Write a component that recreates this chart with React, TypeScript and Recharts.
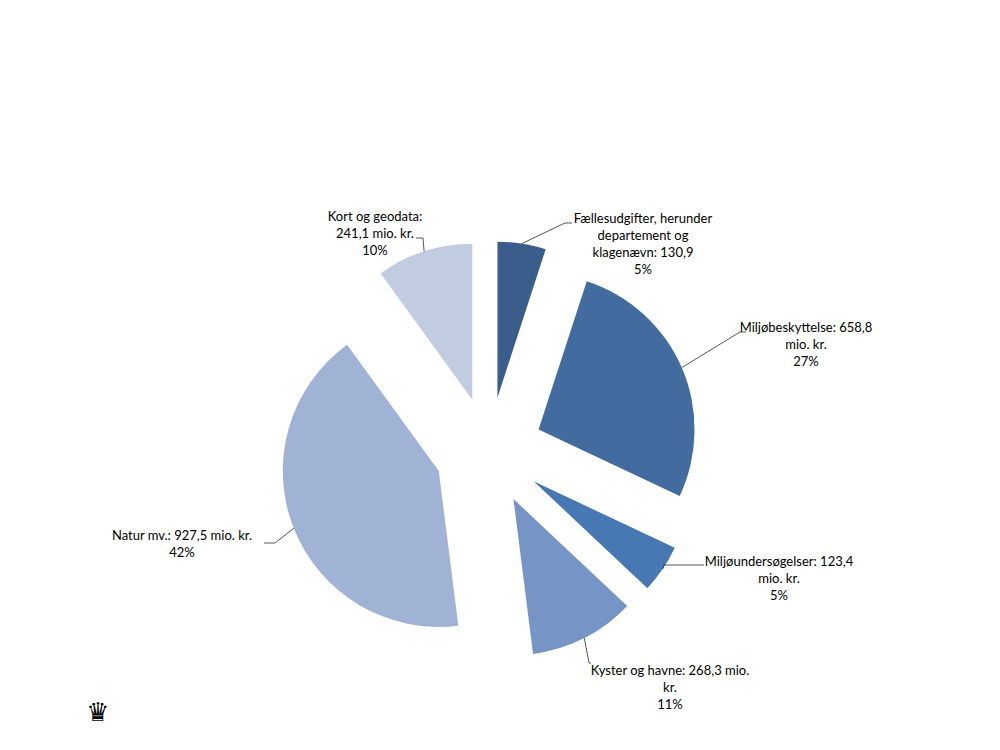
import { PieChart, Pie, Sector } from "recharts";

const CATEGORIES = [
  "Fællesudgifter, herunder departement og klagenævn",
  "Miljøbeskyttelse",
  "Miljøundersøgelser",
  "Kyster og havne",
  "Natur mv.",
  "Kort og geodata",
];
const AMOUNTS = [130.9, 658.8, 123.4, 268.3, 927.5, 241.1];
const SHARES = [5, 27, 5, 11, 42, 10];
const WITH_UNIT = [false, true, true, true, true, true];

const COLORS = ["#3a5d8b", "#426ca0", "#4878b4", "#7694c5", "#a1b3d4", "#c1cce1"];

const data = CATEGORIES.map((name, i) => ({ name, amount: AMOUNTS[i], share: SHARES[i] }));

const RADIAN = Math.PI / 180;
const EXPLODE = 54;
const LINE_H = 17;

// label placement relative to the pie centre (text centre of first line, leader elbow and end)
const LABEL_LAYOUT = [
  { wrap: 24, tx: 154, ty: -233, elbow: [76, -228], end: [83, -228] },
  { wrap: 23, tx: 317, ty: -124, elbow: [251, -119], end: [257, -119] },
  { wrap: 25, tx: 290, ty: 110, elbow: [175, 114], end: [215, 114] },
  { wrap: 27, tx: 181, ty: 219, elbow: [100, 212], end: [102, 212] },
  { wrap: 25, tx: -307, ty: 84, elbow: [-214, 92], end: [-225, 92] },
  { wrap: 16, tx: -114, ty: -235, elbow: [-66, -213], end: [-73, -213] },
];

const fmt = (v: number) => v.toFixed(1).replace(".", ",");

function wrapText(text: string, max: number) {
  const lines: string[] = [];
  let cur = "";
  text.split(" ").forEach((w) => {
    const next = cur ? cur + " " + w : w;
    if (next.length > max && cur) {
      lines.push(cur);
      cur = w;
    } else {
      cur = next;
    }
  });
  if (cur) lines.push(cur);
  return lines;
}

function renderSlice(props: any) {
  const { cx, cy, midAngle, startAngle, endAngle, outerRadius, index, percent } = props;
  const cos = Math.cos(-midAngle * RADIAN);
  const sin = Math.sin(-midAngle * RADIAN);
  const ex = cx + EXPLODE * cos;
  const ey = cy + EXPLODE * sin;
  const ax = ex + outerRadius * cos;
  const ay = ey + outerRadius * sin;
  const lay = LABEL_LAYOUT[index];
  const text = `${CATEGORIES[index]}: ${fmt(AMOUNTS[index])}${WITH_UNIT[index] ? " mio. kr." : ""}`;
  const lines = [...wrapText(text, lay.wrap), `${Math.round(percent * 100)}%`];
  return (
    <g key={`slice-${index}`}>
      <Sector
        cx={ex}
        cy={ey}
        innerRadius={0}
        outerRadius={outerRadius}
        startAngle={startAngle}
        endAngle={endAngle}
        fill={COLORS[index]}
        stroke="none"
      />
      <polyline
        points={`${ax},${ay} ${cx + lay.elbow[0]},${cy + lay.elbow[1]} ${cx + lay.end[0]},${cy + lay.end[1]}`}
        fill="none"
        stroke="#2b2b2b"
        strokeWidth={0.8}
      />
      <text
        x={cx + lay.tx}
        textAnchor="middle"
        fontFamily="Lato, sans-serif"
        fontSize={13}
        fill="#000"
      >
        {lines.map((l, i) => (
          <tspan key={i} x={cx + lay.tx} y={cy + lay.ty + i * LINE_H} dominantBaseline="central">
            {l}
          </tspan>
        ))}
      </text>
    </g>
  );
}

export default function App() {
  return (
    <div style={{ position: "absolute", left: 0, top: 0, width: 1000, height: 750, background: "#fff" }}>
      <PieChart width={1000} height={750} margin={{ top: 0, right: 0, bottom: 0, left: 0 }}>
        <Pie
          data={data}
          dataKey="share"
          nameKey="name"
          cx={489}
          cy={451}
          outerRadius={156}
          startAngle={90}
          endAngle={-270}
          fill="none"
          stroke="none"
          label={renderSlice}
          labelLine={false}
          isAnimationActive={false}
        />
        <text x={98} y={712} textAnchor="middle" dominantBaseline="central" fontFamily="DejaVu Sans" fontSize={26} fill="#000">
          ♛
        </text>
      </PieChart>
    </div>
  );
}
